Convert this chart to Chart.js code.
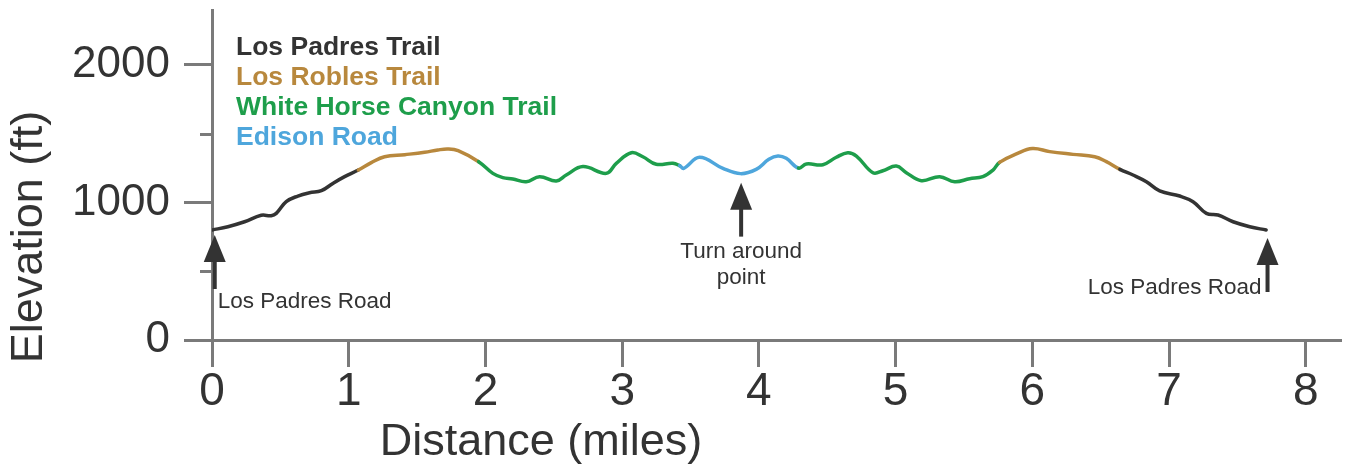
<!DOCTYPE html>
<html>
<head>
<meta charset="utf-8">
<script src="https://cdn.jsdelivr.net/npm/chart.js@4.4.0/dist/chart.umd.min.js"></script>
<style>
  html, body { margin: 0; padding: 0; background: #fff; }
  canvas { display: block; }
</style>
</head>
<body>
<canvas id="chart-canvas" width="1356" height="469"></canvas>
<script>
// ### data ###
const distances = [
  0, 0.116, 0.238, 0.36, 0.433, 0.47, 0.543, 0.628, 0.713, 0.8, 0.884, 0.97,
  1.07, 1.165, 1.262, 1.41, 1.555, 1.652, 1.725, 1.8,
  1.95, 2.054, 2.127, 2.2, 2.298, 2.396, 2.518, 2.591, 2.713, 2.884, 2.957, 3.067, 3.151, 3.249, 3.371,
  3.42, 3.45, 3.566, 3.737, 3.866, 3.98, 4.073, 4.139, 4.2,
  4.29, 4.347, 4.468, 4.566, 4.65, 4.713, 4.834, 4.907, 5.005, 5.078, 5.188, 5.322, 5.432, 5.541, 5.638, 5.712,
  5.76, 5.883, 6.0, 6.127, 6.297, 6.456, 6.541,
  6.64, 6.736, 6.834, 6.931, 7.078, 7.175, 7.273, 7.358, 7.468, 7.59, 7.71
];
const elevations = [
  800, 824, 860, 907, 904, 921, 1006, 1047, 1071, 1086, 1139, 1188,
  1236, 1290, 1333, 1348, 1365, 1382, 1389, 1377,
  1297, 1212, 1181, 1171, 1151, 1188, 1156, 1200, 1261, 1212, 1285, 1362, 1333, 1278, 1285,
  1268, 1248, 1329, 1248, 1210, 1241, 1314, 1338, 1321,
  1250, 1280, 1275, 1329, 1362, 1338, 1217, 1231, 1265, 1217, 1159, 1188, 1151, 1173, 1188, 1236,
  1292, 1353, 1392, 1370, 1350, 1333, 1297,
  1241, 1200, 1151, 1084, 1047, 1006, 921, 909, 860, 824, 800
];

const trailNames = ["Los Padres Trail", "Los Robles Trail", "White Horse Canyon Trail", "Edison Road"];
const trailColors = ["#333333", "#b8883d", "#1e9e4b", "#4ea6dc"];
// where each trail section ends (miles) and which trail it is
const sectionEnds = [1.07, 1.95, 3.42, 4.29, 5.76, 6.64, 7.71];
const sectionTrails = [0, 1, 2, 3, 2, 1, 0];

const xTickValues = [0, 1, 2, 3, 4, 5, 6, 7, 8];
const yTickValues = [0, 500, 1000, 1500, 2000];
const yLabelValues = [0, 1000, 2000];

const markerLabels = [["Los Padres Road"], ["Turn around", "point"], ["Los Padres Road"]];
const markerDistances = [0.02, 3.87, 7.72];
const markerElevations = [800, 1210, 800];

// ### styles ###
const AXIS = "#7a7a7a";
const TEXT = "#333333";
const FONT = '"Liberation Sans", Arial, Helvetica, sans-serif';

function trailColorAt(x) {
  for (let i = 0; i < sectionEnds.length; i++) {
    if (x <= sectionEnds[i]) return trailColors[sectionTrails[i]];
  }
  return trailColors[0];
}

function drawArrow(ctx, x, tipY, baseY) {
  ctx.save();
  ctx.fillStyle = TEXT;
  ctx.strokeStyle = TEXT;
  ctx.lineWidth = 4;
  ctx.beginPath();
  ctx.moveTo(x, tipY + 20);
  ctx.lineTo(x, baseY);
  ctx.stroke();
  ctx.beginPath();
  ctx.moveTo(x, tipY);
  ctx.lineTo(x - 11, tipY + 27);
  ctx.lineTo(x + 11, tipY + 27);
  ctx.closePath();
  ctx.fill();
  ctx.restore();
}

// titles, legend text, minor ticks and arrows
const extrasPlugin = {
  id: "extras",
  afterDraw(chart) {
    const ctx = chart.ctx;
    const xs = chart.scales.x;
    const ys = chart.scales.y;
    const left = chart.chartArea.left;

    // minor y ticks
    ctx.save();
    ctx.strokeStyle = AXIS;
    ctx.lineWidth = 3;
    yTickValues.forEach((v) => {
      if (yLabelValues.includes(v)) return;
      const py = Math.round(ys.getPixelForValue(v)) + 0.5;
      ctx.beginPath();
      ctx.moveTo(left - 12, py);
      ctx.lineTo(left, py);
      ctx.stroke();
    });
    ctx.restore();

    // axis titles
    ctx.save();
    ctx.fillStyle = TEXT;
    ctx.font = "45px " + FONT;
    ctx.textAlign = "center";
    ctx.textBaseline = "middle";
    ctx.fillText("Distance (miles)", 541, 443);
    ctx.translate(30, 237);
    ctx.rotate(-Math.PI / 2);
    ctx.fillText("Elevation (ft)", 0, 0);
    ctx.restore();

    // legend
    ctx.save();
    ctx.font = "bold 26.5px " + FONT;
    ctx.textAlign = "left";
    ctx.textBaseline = "middle";
    trailNames.forEach((name, i) => {
      ctx.fillStyle = trailColors[i];
      ctx.fillText(name, left + 24, 48 + i * 30);
    });
    ctx.restore();

    // arrows and notes
    ctx.save();
    ctx.font = "22.5px " + FONT;
    ctx.fillStyle = TEXT;
    ctx.textBaseline = "middle";
    markerDistances.forEach((d, i) => {
      const px = xs.getPixelForValue(d);
      const lineY = ys.getPixelForValue(markerElevations[i]);
      const lines = markerLabels[i];
      if (i === 0) {
        const tip = lineY + 5;
        drawArrow(ctx, px, tip, tip + 54);
        ctx.textAlign = "left";
        ctx.fillText(lines[0], px + 3, tip + 67);
      } else if (i === 1) {
        const tip = lineY + 9;
        drawArrow(ctx, px, tip, tip + 54);
        ctx.textAlign = "center";
        lines.forEach((t, k) => ctx.fillText(t, px, tip + 69 + k * 26));
      } else {
        const tip = lineY + 8;
        drawArrow(ctx, px, tip, tip + 54);
        ctx.textAlign = "right";
        ctx.fillText(lines[0], px - 6, tip + 50);
      }
    });
    ctx.restore();
  },
};

// ### chart ###
function renderProfileChart() {
  const chartCanvas = document.getElementById("chart-canvas");
  const points = distances.map((d, i) => ({ x: d, y: elevations[i] }));

  new Chart(chartCanvas, {
    type: "line",
    data: {
      datasets: [
        {
          data: points,
          borderWidth: 3.5,
          pointRadius: 0,
          tension: 0.4,
          borderCapStyle: "round",
          borderJoinStyle: "round",
          borderColor: trailColors[0],
          segment: {
            borderColor: (c) => trailColorAt((c.p0.parsed.x + c.p1.parsed.x) / 2),
          },
        },
      ],
    },
    options: {
      responsive: false,
      animation: false,
      devicePixelRatio: 1,
      events: [],
      layout: { padding: { top: 10, right: 16, left: 0, bottom: 0 } },
      plugins: { legend: { display: false }, tooltip: { enabled: false } },
      scales: {
        x: {
          type: "linear",
          min: 0,
          max: 8.25,
          afterBuildTicks: (scale) => {
            scale.ticks = xTickValues.map((v) => ({ value: v }));
          },
          afterFit: (scale) => {
            scale.height = 129;
          },
          border: { color: AXIS, width: 3 },
          grid: { drawOnChartArea: false, color: AXIS, lineWidth: 3, tickLength: 27 },
          ticks: {
            color: TEXT,
            padding: 2,
            maxRotation: 0,
            autoSkip: false,
            font: { family: FONT, size: 46, lineHeight: 1 },
          },
        },
        y: {
          min: 0,
          max: 2400,
          afterBuildTicks: (scale) => {
            scale.ticks = yTickValues.map((v) => ({ value: v }));
          },
          afterFit: (scale) => {
            scale.width = 212;
            // the top label is not at the axis end, so no extra room above
            scale.paddingTop = 0;
            scale.paddingBottom = 0;
          },
          border: { color: AXIS, width: 3 },
          grid: {
            drawOnChartArea: false,
            lineWidth: 3,
            tickLength: 28,
            color: (c) => (c.tick && yLabelValues.includes(c.tick.value) ? AXIS : "rgba(0,0,0,0)"),
          },
          ticks: {
            color: TEXT,
            padding: 14,
            autoSkip: false,
            font: { family: FONT, size: 44 },
            callback: (v) => (yLabelValues.includes(v) ? String(v) : ""),
          },
        },
      },
    },
    plugins: [extrasPlugin],
  });
}

renderProfileChart();
</script>
</body>
</html>
